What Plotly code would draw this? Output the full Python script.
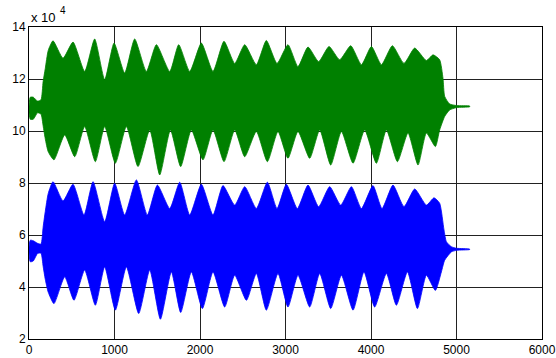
import plotly.graph_objects as go

# Envelope of the dense signals, values in units of 1e4
green_up_x = [0, 15, 50, 100, 140, 165, 190, 225, 281, 398, 515, 651, 768, 885, 995, 1119, 1236, 1373,
              1490, 1646, 1751, 1880, 2016, 2152, 2281, 2406, 2523, 2659, 2776, 2901, 3029, 3146, 3263,
              3388, 3509, 3634, 3763, 3888, 4005, 4122, 4250, 4386, 4511, 4648, 4725, 4803, 4842, 4862,
              4920, 5000, 5154]
green_up_y = [10.95, 11.3, 11.3, 11.15, 11.2, 11.9, 12.4, 13.1, 13.47, 12.8, 13.42, 12.29, 13.54, 11.97,
              13.38, 12.23, 13.54, 12.29, 13.32, 12.29, 13.32, 12.29, 13.38, 12.29, 13.45, 12.6, 13.32,
              12.55, 13.48, 12.6, 13.32, 12.48, 13.23, 12.67, 13.25, 12.74, 13.28, 12.55, 13.25, 12.55,
              13.28, 12.6, 13.19, 12.71, 12.93, 12.74, 12.03, 11.33, 11.04, 10.98, 10.96]
green_lo_x = [0, 15, 50, 100, 140, 165, 190, 225, 292, 418, 535, 651, 776, 885, 1010, 1139, 1275, 1412,
              1529, 1654, 1774, 1899, 2035, 2152, 2281, 2406, 2523, 2659, 2788, 2912, 3029, 3146, 3283,
              3400, 3529, 3654, 3790, 3926, 4063, 4180, 4309, 4433, 4550, 4648, 4753, 4803, 4862, 4920,
              5000, 5154]
green_lo_y = [10.7, 10.45, 10.45, 10.7, 10.65, 10.2, 9.7, 9.2, 8.89, 9.85, 9.01, 10.17, 8.82, 10.17,
              8.76, 10.17, 8.63, 10.04, 8.31, 10.04, 8.63, 10.04, 8.89, 10.04, 8.82, 10.04, 9.01, 9.98,
              8.82, 9.98, 8.95, 9.98, 8.95, 10.04, 8.69, 9.98, 8.76, 10.04, 8.76, 10.04, 8.82, 9.92,
              8.69, 9.92, 9.40, 10.04, 10.56, 10.81, 10.90, 10.93]

blue_up_x = [0, 15, 50, 100, 140, 165, 190, 225, 281, 398, 515, 643, 749, 885, 1002, 1119, 1256, 1384,
             1502, 1646, 1763, 1880, 2016, 2152, 2269, 2406, 2523, 2659, 2788, 2901, 3010, 3139, 3263,
             3388, 3517, 3646, 3771, 3888, 4023, 4129, 4257, 4386, 4511, 4648, 4737, 4803, 4854, 4882,
             4940, 5000, 5154]
blue_up_y = [5.55, 5.8, 5.78, 5.68, 5.65, 6.3, 6.9, 7.6, 8.05, 7.31, 7.95, 6.77, 8.05, 6.51, 7.99, 6.77,
             8.12, 6.77, 7.92, 7.02, 8.03, 6.77, 7.95, 6.77, 7.90, 7.15, 7.86, 7.02, 8.03, 7.02, 7.95,
             7.02, 7.92, 7.09, 7.86, 7.15, 7.86, 7.02, 7.90, 7.02, 7.92, 7.09, 7.77, 7.15, 7.43, 7.22,
             6.19, 5.74, 5.55, 5.49, 5.46]
blue_lo_x = [0, 15, 50, 100, 140, 165, 190, 225, 292, 418, 526, 651, 776, 885, 1010, 1139, 1283, 1412,
             1537, 1665, 1774, 1899, 2028, 2152, 2289, 2406, 2543, 2659, 2776, 2912, 3029, 3146, 3283,
             3400, 3529, 3654, 3790, 3918, 4043, 4180, 4297, 4426, 4543, 4648, 4753, 4823, 4862, 4940,
             5000, 5154]
blue_lo_y = [5.35, 4.97, 5.0, 5.29, 5.3, 4.8, 4.3, 3.8, 3.36, 4.39, 3.49, 4.65, 3.30, 4.77, 3.11, 4.77,
             2.98, 4.65, 2.76, 4.58, 3.02, 4.58, 3.17, 4.58, 3.23, 4.45, 3.49, 4.52, 3.11, 4.52, 3.23,
             4.45, 3.23, 4.52, 3.17, 4.45, 3.11, 4.58, 3.23, 4.52, 3.30, 4.58, 3.17, 4.45, 3.87, 4.58,
             5.03, 5.35, 5.41, 5.44]

x_ticks = [0, 1000, 2000, 3000, 4000, 5000, 6000]
y_ticks = [2, 4, 6, 8, 10, 12, 14]
SCALE = 1e4

fig = go.Figure()


def band(ux, uy, lx, ly, color):
    xs = list(ux) + list(reversed(lx))
    ys = [v * SCALE for v in uy] + [v * SCALE for v in reversed(ly)]
    fig.add_trace(go.Scatter(x=xs, y=ys, mode="lines", fill="toself", fillcolor=color,
                             line=dict(color=color, width=0.8, shape="spline", smoothing=0.55),
                             hoverinfo="skip", showlegend=False))


band(green_up_x, green_up_y, green_lo_x, green_lo_y, "#008000")
band(blue_up_x, blue_up_y, blue_lo_x, blue_lo_y, "#0000ff")

font = dict(family="Liberation Sans, Arial, sans-serif", size=12, color="black")
axis_common = dict(showgrid=True, gridcolor="#222222", gridwidth=1, zeroline=False,
                   showline=True, linecolor="black", linewidth=1, mirror=True, ticks="",
                   tickfont=font, automargin=False)

fig.update_layout(
    width=556, height=358,
    margin=dict(l=29, r=14, t=27, b=19),
    paper_bgcolor="white", plot_bgcolor="white",
    font=font,
    xaxis=dict(range=[0, 6000], tickvals=x_ticks, ticktext=[str(t) for t in x_ticks], **axis_common),
    yaxis=dict(range=[2 * SCALE, 14 * SCALE], tickvals=[t * SCALE for t in y_ticks],
               ticktext=[str(t) for t in y_ticks], **axis_common),
    annotations=[
        dict(text="x 10", xref="paper", yref="paper", x=0, y=1, xanchor="left", yanchor="middle",
             yshift=10, showarrow=False, font=dict(family=font["family"], size=13, color="black")),
        dict(text="4", xref="paper", yref="paper", x=0, y=1, xanchor="left", yanchor="middle",
             xshift=29, yshift=17, showarrow=False, font=dict(family=font["family"], size=10, color="black")),
    ],
)

fig.write_html("out.html", config={"displayModeBar": False})

# remove the browser's default body margin so the figure fills the window exactly
with open("out.html", encoding="utf-8") as f:
    html = f.read()
html = html.replace("<head>", "<head><style>html,body{margin:0;padding:0;overflow:hidden;}</style>", 1)
with open("out.html", "w", encoding="utf-8") as f:
    f.write(html)
